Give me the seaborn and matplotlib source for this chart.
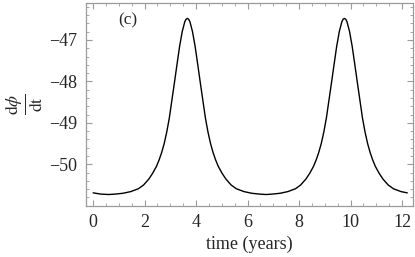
import pandas as pd
import seaborn as sns
import matplotlib
matplotlib.use("Agg")
import matplotlib.pyplot as plt
from matplotlib.ticker import MultipleLocator

# values
time_years = [0.0, 0.3, 0.61, 0.86, 1.16, 1.46, 1.76, 1.96, 2.16, 2.31, 2.46, 2.56,
              2.66, 2.76, 2.86, 2.96, 3.06, 3.16, 3.26, 3.36, 3.46, 3.56, 3.61, 3.66,
              3.71, 3.76, 3.86, 3.96, 4.06, 4.16, 4.26, 4.36, 4.46, 4.56, 4.66, 4.76,
              4.86, 5.01, 5.16, 5.36, 5.56, 5.86, 6.16, 6.46, 6.71, 6.96, 7.26, 7.56,
              7.86, 8.06, 8.26, 8.41, 8.56, 8.66, 8.76, 8.86, 8.96, 9.06, 9.16, 9.26,
              9.36, 9.46, 9.56, 9.66, 9.71, 9.76, 9.81, 9.86, 9.96, 10.06, 10.16, 10.26,
              10.36, 10.46, 10.56, 10.66, 10.76, 10.86, 10.96, 11.11, 11.26, 11.46,
              11.66, 11.96, 12.2]
dphi_dt = [-50.69, -50.72, -50.73, -50.72, -50.70, -50.66, -50.59, -50.50, -50.36,
           -50.22, -50.05, -49.90, -49.72, -49.50, -49.22, -48.88, -48.45, -48.02,
           -47.58, -47.15, -46.80, -46.56, -46.50, -46.48, -46.50, -46.56, -46.80,
           -47.15, -47.58, -48.02, -48.45, -48.88, -49.22, -49.50, -49.72, -49.90,
           -50.05, -50.22, -50.36, -50.50, -50.59, -50.66, -50.70, -50.72, -50.73,
           -50.72, -50.70, -50.66, -50.59, -50.50, -50.36, -50.22, -50.05, -49.90,
           -49.72, -49.50, -49.22, -48.88, -48.45, -48.02, -47.58, -47.15, -46.80,
           -46.56, -46.50, -46.48, -46.50, -46.56, -46.80, -47.15, -47.58, -48.02,
           -48.45, -48.88, -49.22, -49.50, -49.72, -49.90, -50.05, -50.22, -50.36,
           -50.50, -50.59, -50.66, -50.69]
x_ticks = [0, 2, 4, 6, 8, 10, 12]
y_ticks = [-50, -49, -48, -47]

df = pd.DataFrame({"t": time_years, "v": dphi_dt})

sns.set_style("ticks")
plt.rcParams["font.family"] = ["Liberation Serif", "DejaVu Serif"]
plt.rcParams["mathtext.fontset"] = "stix"

fig = plt.figure(figsize=(4.15, 2.57), dpi=100)
ax = fig.add_axes([0.207, 0.198, 0.788, 0.79])

sns.lineplot(data=df, x="t", y="v", color="black", linewidth=1.0, ax=ax)

ax.set_xlim(-0.28, 12.42)
ax.set_ylim(-51.01, -46.11)
ax.set_xticks(x_ticks)
ax.set_yticks(y_ticks)
ax.xaxis.set_minor_locator(MultipleLocator(0.5))
ax.yaxis.set_minor_locator(MultipleLocator(0.2))
ax.set_yticklabels(["\u2212" + str(abs(v)) for v in y_ticks])

gray = "#9a9a9a"
for s in ax.spines.values():
    s.set_color(gray)
    s.set_linewidth(0.9)
ax.tick_params(which="both", direction="in", top=True, right=True, color=gray,
               labelsize=13, pad=6)
ax.tick_params(which="major", length=4)
ax.tick_params(which="minor", length=2)

ax.set_xlabel("time (years)", fontsize=13, labelpad=3)
ax.set_ylabel(r"$\frac{\mathrm{d}\phi}{\mathrm{dt}}$", fontsize=18, labelpad=3)
ax.text(0.128, 0.915, "(c)", transform=ax.transAxes, fontsize=12.5,
        ha="center", va="center")

fig.savefig("out.png", dpi=100)
